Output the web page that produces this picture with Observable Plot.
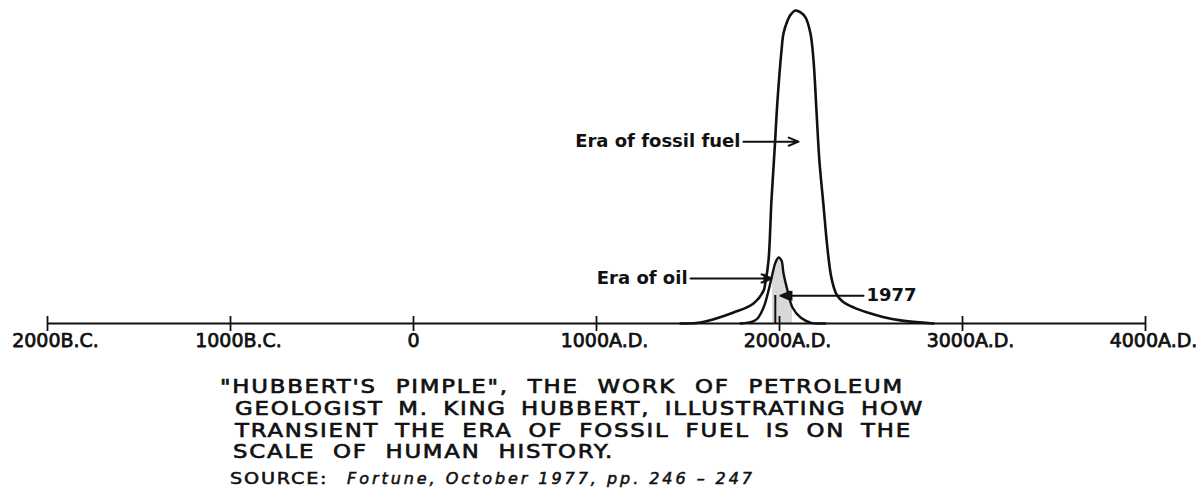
<!DOCTYPE html>
<html><head><meta charset="utf-8">
<script src="https://cdn.jsdelivr.net/npm/d3@7"></script>
<script src="https://cdn.jsdelivr.net/npm/@observablehq/plot@0.6"></script>
<style>
body{margin:0;background:#fff;width:1199px;height:489px;overflow:hidden;position:relative;font-family:"DejaVu Sans";}
#chart{position:absolute;left:0;top:0;}
.cap{position:absolute;white-space:pre;font-size:19px;line-height:19px;color:#111;letter-spacing:1.5px;-webkit-text-stroke:0.65px #111;transform-origin:0 0;transform:scaleX(1.2);}
.src{position:absolute;white-space:pre;font-size:16px;line-height:16px;color:#111;letter-spacing:1.5px;-webkit-text-stroke:0.55px #111;transform-origin:0 0;transform:scaleX(1.2);}
.src.it{font-style:italic;transform:none;letter-spacing:0;}
</style></head><body>
<div id="chart"></div>
<div id="caption"></div>
<script>
// ---- data ----
const tickYears = [-2000, -1000, 0, 1000, 2000, 3000, 4000];
const tickLabels = ["2000B.C.", "1000B.C.", "0", "1000A.D.", "2000A.D.", "3000A.D.", "4000A.D."];

const fossilYears  = [1459, 1568, 1749, 1858, 1913, 1923, 1940, 1956, 1973, 1989, 2011, 2022, 2044, 2060, 2087, 2115, 2142, 2169, 2186, 2202, 2218, 2240, 2262, 2284, 2310, 2345, 2410, 2481, 2570, 2661, 2842];
const fossilValues = [0,    0.3,  3.5,  6.4,  10.5, 13.1, 20.1, 39.3, 55.3, 71.2, 87.2, 92.7, 96.8, 98.6, 100,  99.4, 97.8, 92.7, 84,   68,   52,   38,   24,   14.5, 9.5,  7.0,  5.0,  3.5,  2.0,  1.0,  0];

const oilYears  = [1787, 1852, 1880, 1913, 1940, 1962, 1978, 1995, 2011, 2022, 2044, 2071, 2115, 2169, 2251];
const oilValues = [0,    0.6,  1.6,  5.1,  10.5, 16,   19.5, 21.1, 20.1, 16,   10.5, 5.1,  1.9,  0.3,  0];

const markerYear = 1977;
const markerTop = 11.5;

const annoLabels = ["Era of fossil fuel", "Era of oil", "1977"];
const annoX1 = [1803, 1514, 2459];
const annoX2 = [2104, 1956, 2005];
const annoY  = [58.1, 14.4, 8.9];

const captionLines = [
  "\"HUBBERT'S PIMPLE\", THE WORK OF PETROLEUM",
  "GEOLOGIST M. KING HUBBERT, ILLUSTRATING HOW",
  "TRANSIENT THE ERA OF FOSSIL FUEL IS ON THE",
  "SCALE OF HUMAN HISTORY."
];
const sourceLabel = "SOURCE:";
const sourceText = "Fortune, October 1977, pp. 246 \u2013 247";

// ---- build ----
const fossil = fossilYears.map((x, i) => ({x, y: fossilValues[i]}));
const oil = oilYears.map((x, i) => ({x, y: oilValues[i]}));
const shade = oil.filter(d => d.x >= 1962 && d.x <= 2071);
const annos = annoLabels.map((label, i) => ({label, x1: annoX1[i], x2: annoX2[i], y: annoY[i]}));
const ink = "#111";

const chart = Plot.plot({
  width: 1199, height: 360, margin: 0,
  style: {fontFamily: "DejaVu Sans", background: "#fff", color: ink},
  x: {type: "linear", domain: [-2000, 4000], range: [47, 1145], axis: null},
  y: {type: "linear", domain: [0, 100], range: [323, 10], axis: null},
  marks: [
    Plot.areaY(shade, {x: "x", y: "y", fill: "#d8d8d8", curve: "catmull-rom"}),
    Plot.ruleY([0], {x1: tickYears[0], x2: tickYears[tickYears.length - 1], stroke: ink, strokeWidth: 2.2}),
    Plot.ruleX(tickYears, {x: d => d, y1: 0, y2: 0, insetTop: -7, insetBottom: -8, stroke: ink, strokeWidth: 1.8}),
    Plot.text(tickYears, {filter: d => d !== 0, x: d => d, y: 0, text: d => tickLabels[tickYears.indexOf(d)], dy: 17, dx: 8, fontSize: 19, fill: ink, stroke: ink, strokeWidth: 0.75}),
    Plot.text(tickYears, {filter: d => d === 0, x: d => d, y: 0, text: d => tickLabels[tickYears.indexOf(d)], dy: 17, fontSize: 19, fill: ink, stroke: ink, strokeWidth: 0.75}),
    Plot.line(oil, {x: "x", y: "y", stroke: ink, strokeWidth: 2.4, curve: "catmull-rom"}),
    Plot.line(fossil, {x: "x", y: "y", stroke: ink, strokeWidth: 2.6, curve: "catmull-rom"}),
    Plot.ruleX([markerYear], {x: d => d, y1: 0, y2: markerTop, insetBottom: -8, stroke: ink, strokeWidth: 2}),
    Plot.arrow(annos, {x1: "x1", y1: "y", x2: "x2", y2: "y", stroke: ink, strokeWidth: 2, headLength: 8, headAngle: 45}),
    Plot.dot(annos, {filter: d => d.label === "Era of oil", x: "x2", y: "y", symbol: "triangle2", rotate: 90, r: 5, dx: -5, fill: ink}),
    Plot.dot(annos, {filter: d => d.label === "1977", x: "x2", y: "y", symbol: "triangle2", rotate: -90, r: 5, dx: 9, fill: ink}),
    Plot.text(annos, {filter: d => d.label !== "1977", x: "x1", y: "y", text: "label", textAnchor: "end", dx: -3, fontSize: 18, fontWeight: "bold", fill: ink}),
    Plot.text(annos, {filter: d => d.label === "1977", x: "x1", y: "y", text: "label", textAnchor: "start", dx: 3, fontSize: 18, fontWeight: "bold", fill: ink})
  ]
});
document.getElementById("chart").appendChild(chart);

// ---- caption ----
const SCALE = 1.2;
const cap = document.getElementById("caption");
const capLefts = [220, 235, 235, 233], capTops = [377, 399, 421, 442], capWidths = [684, 689, 677, 381];
captionLines.forEach((t, i) => {
  const s = document.createElement("span");
  s.className = "cap"; s.textContent = t;
  s.style.left = capLefts[i] + "px"; s.style.top = capTops[i] + "px";
  cap.appendChild(s);
  const w = s.getBoundingClientRect().width;
  const n = (t.match(/ /g) || []).length;
  s.style.wordSpacing = ((capWidths[i] - w) / (n * SCALE)) + "px";
});
const s1 = document.createElement("span");
s1.className = "src"; s1.textContent = sourceLabel;
s1.style.left = "230px"; s1.style.top = "471px";
cap.appendChild(s1);
const s2 = document.createElement("span");
s2.className = "src it"; s2.textContent = sourceText;
s2.style.left = "347px"; s2.style.top = "471px";
cap.appendChild(s2);
const w2 = s2.getBoundingClientRect().width;
s2.style.letterSpacing = ((408 - w2) / sourceText.length) + "px";
</script>
</body></html>
